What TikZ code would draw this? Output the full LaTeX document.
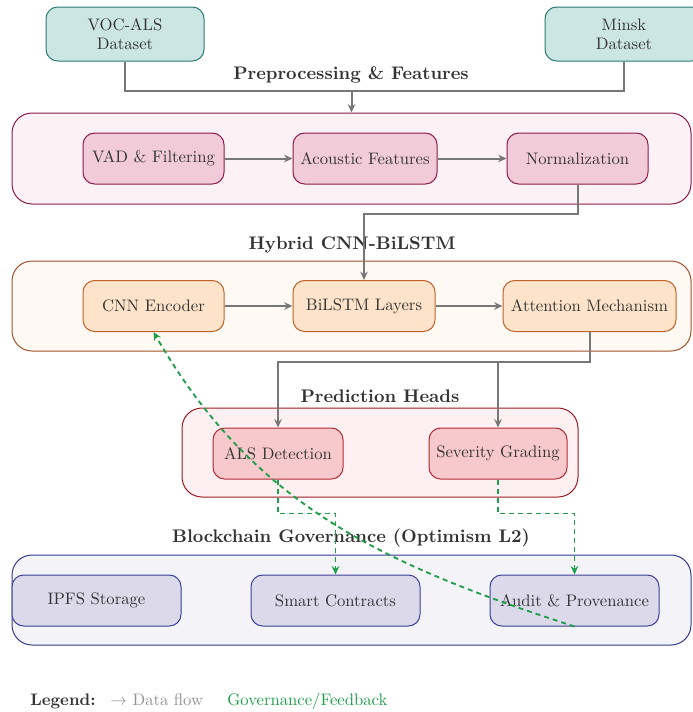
\documentclass[tikz,border=0pt]{standalone}
\usetikzlibrary{arrows.meta,calc}
\definecolor{txt}{HTML}{333333}
\definecolor{flowc}{HTML}{777777}
\definecolor{govc}{HTML}{1E9E4A}
\definecolor{tealF}{HTML}{CCE6E3}\definecolor{tealD}{HTML}{2A7A74}
\definecolor{pinkF}{HTML}{F2CBD9}\definecolor{pinkD}{HTML}{8B1A4A}\definecolor{pinkG}{HTML}{FCF1F5}
\definecolor{orF}{HTML}{FDE3C9}\definecolor{orD}{HTML}{C0622A}\definecolor{orG}{HTML}{FEF9F3}\definecolor{orGD}{HTML}{A0522D}
\definecolor{redF}{HTML}{F8C9CC}\definecolor{redD}{HTML}{B02A35}\definecolor{redG}{HTML}{FCF0F2}\definecolor{redGD}{HTML}{9B1C24}
\definecolor{bluF}{HTML}{DCD9EA}\definecolor{bluD}{HTML}{3C3F98}\definecolor{bluG}{HTML}{F4F4F8}\definecolor{bluGD}{HTML}{343A8A}
\tikzset{
  box/.style={draw, rounded corners=7pt, line width=0.6pt, inner sep=0pt, align=center, text=txt, font=\fontsize{10}{11.5}\selectfont, minimum height=30.6pt},
  grp/.style={draw, rounded corners=12pt, line width=0.6pt, inner sep=0pt},
  ttl/.style={text=txt, font=\fontsize{10.95}{13}\selectfont\bfseries, inner sep=0pt},
  flow/.style={draw=flowc, line width=1.2pt, -{Stealth[length=5pt,width=4.5pt]}},
  flowplain/.style={draw=flowc, line width=1.2pt},
  gov/.style={draw=govc, line width=1.1pt, dash pattern=on 3pt off 2.4pt, -{Stealth[length=5pt,width=4.5pt]}}
}
\begin{document}
\begin{tikzpicture}[x=0.6pt,y=-0.6pt]
\useasboundingbox (0,0) rectangle (693,712);
% groups
\node[grp, fill=pinkG, draw=pinkD, minimum width=407.4pt, minimum height=54.6pt] (g1) at (351.5,158.5) {};
\node[grp, fill=orG, draw=orGD, minimum width=407.4pt, minimum height=54pt] (g2) at (351.5,306) {};
\node[grp, fill=redG, draw=redGD, minimum width=237.6pt, minimum height=53.4pt] (g3) at (380,452.5) {};
\node[grp, fill=bluG, draw=bluGD, minimum width=407.4pt, minimum height=54pt] (g4) at (351.5,600) {};
% titles
\node[ttl] (t1) at (351,75) {Preprocessing \& Features};
\node[ttl] (t2) at (352,245) {Hybrid CNN-BiLSTM};
\node[ttl] (t3) at (380,396) {Prediction Heads};
\node[ttl] (t4) at (351,538) {Blockchain Governance (Optimism L2)};
% datasets
\node[box, fill=tealF, draw=tealD, minimum width=94.8pt, minimum height=32.4pt] (voc) at (125,34) {VOC-ALS\\Dataset};
\node[box, fill=tealF, draw=tealD, minimum width=94.8pt, minimum height=32.4pt] (minsk) at (624,34) {Minsk\\Dataset};
% row 1
\node[box, fill=pinkF, draw=pinkD, minimum width=84.6pt] (vad) at (153.5,158.5) {VAD \& Filtering};
\node[box, fill=pinkF, draw=pinkD, minimum width=86.4pt] (ac) at (365,158.5) {Acoustic Features};
\node[box, fill=pinkF, draw=pinkD, minimum width=84.6pt] (norm) at (577.5,158.5) {Normalization};
% row 2
\node[box, fill=orF, draw=orD, minimum width=84.6pt] (cnn) at (153.5,306) {CNN Encoder};
\node[box, fill=orF, draw=orD, minimum width=85.2pt] (bil) at (364,306) {BiLSTM Layers};
\node[box, fill=orF, draw=orD, minimum width=103.8pt] (att) at (589.5,306) {Attention Mechanism};
% row 3
\node[box, fill=redF, draw=redD, minimum width=78pt] (als) at (278,453.5) {ALS Detection};
\node[box, fill=redF, draw=redD, minimum width=82.8pt] (sev) at (498,453.5) {Severity Grading};
% row 4
\node[box, fill=bluF, draw=bluD, minimum width=101.4pt] (ipfs) at (96.5,600.5) {IPFS Storage};
\node[box, fill=bluF, draw=bluD, minimum width=101.4pt] (smart) at (335.5,600.5) {Smart Contracts};
\node[box, fill=bluF, draw=bluD, minimum width=101.4pt] (audit) at (574.5,600.5) {Audit \& Provenance};
% data flow
\coordinate (m1) at (351.5,91);
\draw[flowplain] (voc.south) |- (m1);
\draw[flowplain] (minsk.south) |- (m1);
\draw[flow] (m1) -- (g1.north);
\draw[flow] (vad) -- (ac);
\draw[flow] (ac) -- (norm);
\draw[flow] (norm.south) -- ++(0,29) -| (bil.north);
\draw[flow] (cnn) -- (bil);
\draw[flow] (bil) -- (att);
\draw[flow] (att.south) -- ++(0,30) coordinate (j) -| (als.north);
\draw[flow] (j) -| (sev.north);
% governance
\draw[gov] (als.south) -- ++(0,34) -| (smart.north);
\draw[gov] (sev.south) -- ++(0,34) -| (audit.north);
\draw[gov] (audit.south) to[out=162,in=-60] (cnn.south);
% legend
\node[anchor=base west, inner sep=0pt, text=txt, font=\fontsize{10}{12}\selectfont\bfseries] (lg) at (30,705) {Legend:};
\node[anchor=base west, inner sep=0pt, text=flowc!80!white, font=\fontsize{10}{12}\selectfont] (lg1) at (110,705) {$\rightarrow$ Data flow};
\node[anchor=base west, inner sep=0pt, text=govc, font=\fontsize{10}{12}\selectfont] (lg2) at (227,705) {Governance/Feedback};
\end{tikzpicture}
\end{document}
